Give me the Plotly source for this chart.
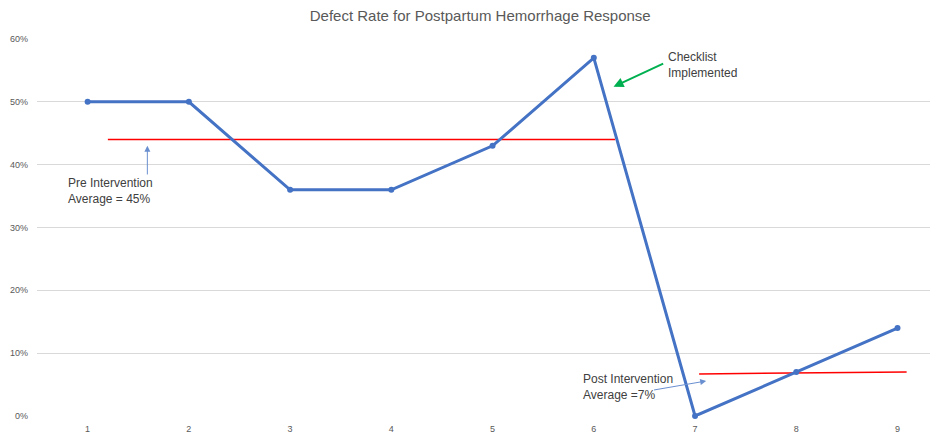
import plotly.graph_objects as go

# Data
periods = [1, 2, 3, 4, 5, 6, 7, 8, 9]
defect_rate = [0.50, 0.50, 0.36, 0.36, 0.43, 0.57, 0.00, 0.07, 0.14]

pre_avg_x = [1.2, 6.21]
pre_avg_y = [0.44, 0.44]
post_avg_x = [7.04, 9.09]
post_avg_y = [0.067, 0.070]

y_ticks = [0, 0.1, 0.2, 0.3, 0.4, 0.5, 0.6]
y_tick_labels = ["0%", "10%", "20%", "30%", "40%", "50%", "60%"]

FONT = "Liberation Sans"
TXT = "#404040"

fig = go.Figure()
fig.add_trace(go.Scatter(x=pre_avg_x, y=pre_avg_y, mode="lines",
                         line=dict(color="#FF0000", width=1.5), hoverinfo="skip"))
fig.add_trace(go.Scatter(x=post_avg_x, y=post_avg_y, mode="lines",
                         line=dict(color="#FF0000", width=1.5), hoverinfo="skip"))
fig.add_trace(go.Scatter(x=periods, y=defect_rate, mode="lines+markers",
                         line=dict(color="#4472C4", width=3),
                         marker=dict(color="#4472C4", size=6),
                         cliponaxis=False))

annotations = [
    # arrows
    dict(x=1.59, y=0.43, ax=1.59, ay=0.382, axref="x", ayref="y", xref="x", yref="y",
         text="", showarrow=True, arrowhead=2, arrowsize=1.2, arrowwidth=1, arrowcolor="#6A8FD0"),
    dict(x=6.195, y=0.524, ax=6.70, ay=0.562, axref="x", ayref="y", xref="x", yref="y",
         text="", showarrow=True, arrowhead=2, arrowsize=1, arrowwidth=2, arrowcolor="#00B050"),
    dict(x=7.11, y=0.0557, ax=6.58, ay=0.041, axref="x", ayref="y", xref="x", yref="y",
         text="", showarrow=True, arrowhead=2, arrowsize=1.2, arrowwidth=1, arrowcolor="#6A8FD0"),
    # texts
    dict(x=0.79, y=0.385, xref="x", yref="y", xanchor="left", yanchor="top", align="left",
         text="Pre Intervention<br>Average = 45%", showarrow=False,
         font=dict(family=FONT, size=12, color=TXT)),
    dict(x=6.71, y=0.586, xref="x", yref="y", xanchor="left", yanchor="top", align="left",
         text="Checklist<br>Implemented", showarrow=False,
         font=dict(family=FONT, size=12, color=TXT)),
    dict(x=5.87, y=0.074, xref="x", yref="y", xanchor="left", yanchor="top", align="left",
         text="Post Intervention<br>Average =7%", showarrow=False,
         font=dict(family=FONT, size=12, color=TXT)),
]

fig.update_layout(
    width=930, height=428,
    margin=dict(l=29, r=2, t=31, b=20),
    paper_bgcolor="white", plot_bgcolor="white",
    showlegend=False,
    title=dict(text="Defect Rate for Postpartum Hemorrhage Response",
               x=0.493, xref="paper", xanchor="center", y=0.981, yanchor="middle",
               font=dict(family=FONT, size=15, color="#595959")),
    annotations=annotations,
    xaxis=dict(range=[0.5, 9.38], tickvals=periods, ticktext=[str(p) for p in periods],
               showgrid=False, zeroline=False, showline=False,
               ticks="outside", ticklen=4, tickcolor="rgba(0,0,0,0)",
               tickfont=dict(family=FONT, size=9, color="#595959")),
    yaxis=dict(range=[0, 0.6], tickvals=y_ticks, ticktext=y_tick_labels,
               showgrid=True, gridcolor="#D9D9D9", gridwidth=1, zeroline=False,
               showline=False, ticks="", ticklabelstandoff=8,
               tickfont=dict(family=FONT, size=9, color="#595959")),
)

fig.write_html("out.html")
